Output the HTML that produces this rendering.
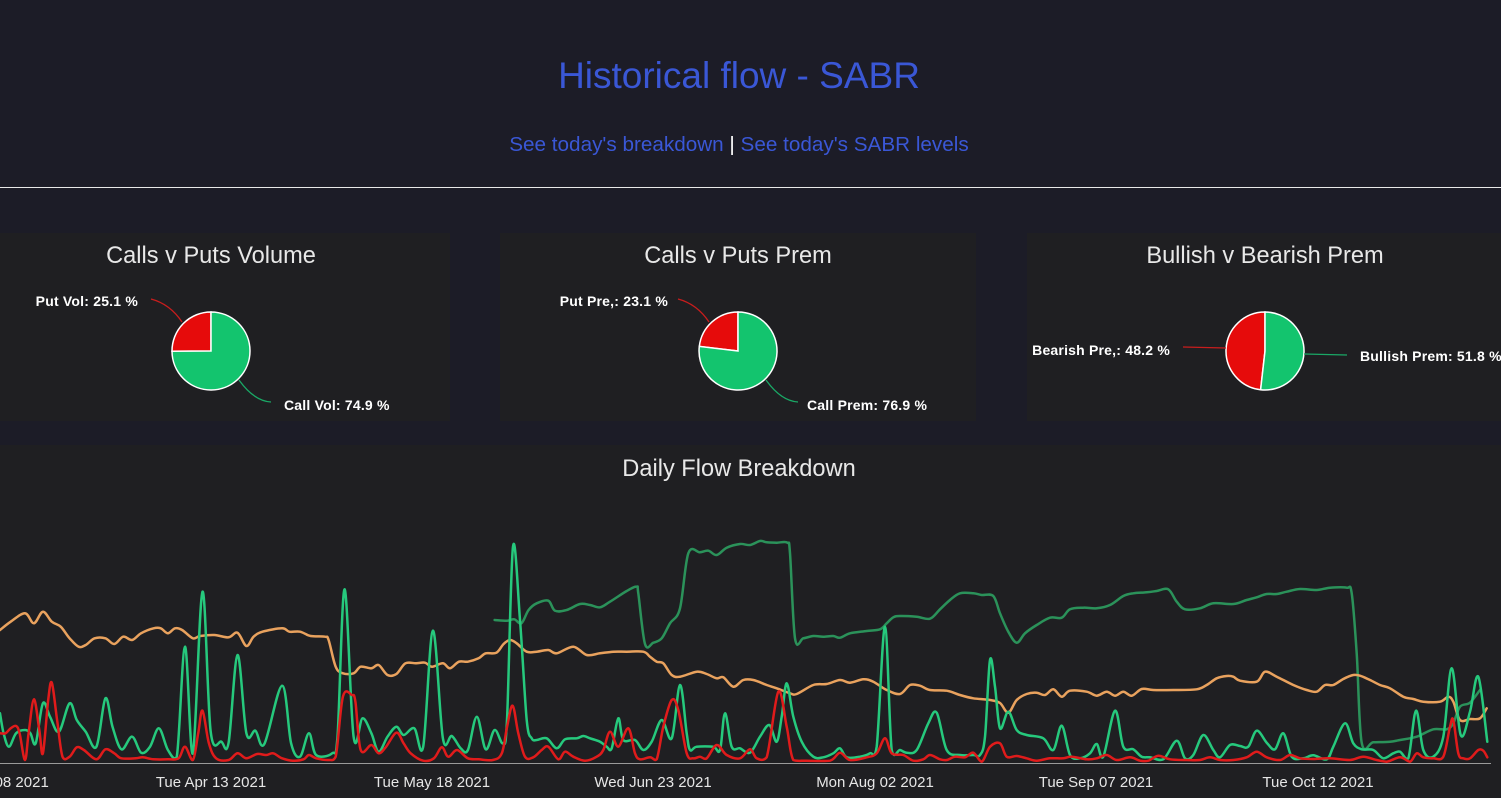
<!DOCTYPE html>
<html><head><meta charset="utf-8"><style>
html,body{margin:0;padding:0;background:#1c1c27;width:1501px;height:798px;overflow:hidden}
svg{display:block}
.t{font-family:"Liberation Sans",sans-serif}
</style></head><body>
<svg id="s" width="1501" height="798" viewBox="0 0 1501 798" xmlns="http://www.w3.org/2000/svg">
<rect x="0" y="0" width="1501" height="798" fill="#1c1c27"/>
<text class="t" x="739" y="88" text-anchor="middle" font-size="37" fill="#3a57d6">Historical flow - SABR</text>
<text class="t" x="739" y="151" text-anchor="middle" font-size="20.7"><tspan fill="#3a57d6">See today's breakdown</tspan><tspan fill="#ffffff"> | </tspan><tspan fill="#3a57d6">See today's SABR levels</tspan></text>
<rect x="0" y="187" width="1501" height="1" fill="#e8e8e8"/>

<rect x="0" y="233" width="450" height="188" fill="#1f1f22"/>
<rect x="500" y="233" width="476" height="188" fill="#1f1f22"/>
<rect x="1027" y="233" width="474" height="188" fill="#1f1f22"/>
<rect x="0" y="445" width="1501" height="353" fill="#1f1f22"/>

<g class="t" font-size="23.6" fill="#e8e8e8" text-anchor="middle">
<text x="211" y="263">Calls v Puts Volume</text>
<text x="738" y="263">Calls v Puts Prem</text>
<text x="1265" y="263">Bullish v Bearish Prem</text>
<text x="739" y="476">Daily Flow Breakdown</text>
</g>

<g stroke="#ffffff" stroke-width="1.5">
<path d="M211,351 L211,312 A39,39 0 0,0 172,351.25 Z" fill="#e60b0b"/>
<path d="M211,351 L172,351.25 A39,39 0 1,0 211,312 Z" fill="#13c46e"/>
<path d="M738,351 L738,312 A39,39 0 0,0 699.3,346.4 Z" fill="#e60b0b"/>
<path d="M738,351 L699.3,346.4 A39,39 0 1,0 738,312 Z" fill="#13c46e"/>
<path d="M1265,351 L1265,312 A39,39 0 0,0 1260.6,389.75 Z" fill="#e60b0b"/>
<path d="M1265,351 L1260.6,389.75 A39,39 0 1,0 1265,312 Z" fill="#13c46e"/>
</g>
<g fill="none" stroke-width="1.3">
<path d="M151,299 Q170,304 182,322" stroke="#c81d1d"/>
<path d="M239,380 Q254,401 271,402" stroke="#1aa866"/>
<path d="M678,299 Q697,304 709,322" stroke="#c81d1d"/>
<path d="M766,380 Q781,401 798,402" stroke="#1aa866"/>
<path d="M1183,347 L1226,348" stroke="#c81d1d"/>
<path d="M1304,354 L1347,355" stroke="#1aa866"/>
</g>
<g class="t" font-size="14" font-weight="bold" fill="#ffffff" letter-spacing="0.2">
<text x="138" y="306" text-anchor="end">Put Vol: 25.1 %</text>
<text x="284" y="410">Call Vol: 74.9 %</text>
<text x="668" y="306" text-anchor="end">Put Pre,: 23.1 %</text>
<text x="807" y="410">Call Prem: 76.9 %</text>
<text x="1170" y="355" text-anchor="end">Bearish Pre,: 48.2 %</text>
<text x="1360" y="361">Bullish Prem: 51.8 %</text>
</g>

<rect x="0" y="763" width="1491" height="1" fill="#9a9a9a"/>
<g class="t" font-size="15" fill="#e6e6e6" text-anchor="middle">
<text x="-10" y="787">Mon Mar 08 2021</text>
<text x="211" y="787">Tue Apr 13 2021</text>
<text x="432" y="787">Tue May 18 2021</text>
<text x="653" y="787">Wed Jun 23 2021</text>
<text x="875" y="787">Mon Aug 02 2021</text>
<text x="1096" y="787">Tue Sep 07 2021</text>
<text x="1318" y="787">Tue Oct 12 2021</text>
</g>

<g id="series" fill="none" stroke-width="2.5" stroke-linejoin="round" stroke-linecap="round">
<polyline stroke="#2b925a" points="494.6,620 507.1,620.7 514.3,619.3 521.4,623.3 528.6,610 536.7,603.3 548.3,600.7 555,610.7 566.7,610 580,604 590,605 600,607.3 610,601.7 626.7,591 636.7,586.7 638.3,593.3 645,644 653.3,642.7 661.7,638.3 670,623.3 680,608.3 688.3,553.3 700,552.3 708.3,550.7 716.7,555 726.7,547.7 740,544 750,545 760,541 766.7,542.3 776.7,542.7 787.3,542.7 790,553.3 795,638.3 803.3,638.3 813.3,636 823.3,636.7 833.3,636 840,637.7 850,633.3 866.7,631 880,629.3 886.7,623.3 893.3,617.3 900,616 916.7,616.7 930,618.7 940,609.3 950,600 960,593.3 973.3,593.3 981.7,595 993.3,596 1000,613.3 1008.3,631.7 1016.7,642.7 1025,633.3 1036.7,625 1050,617.7 1061.7,617.7 1070,609.3 1083.3,607.7 1096.7,608.3 1110,605 1123.3,596 1133.3,593.3 1146.7,592.3 1156.7,591 1168.3,589.3 1176.7,601.7 1185,609.3 1200,608.3 1213.3,603.3 1233.3,604 1246.7,600 1256.7,597.3 1266.7,594 1276.7,594 1286.7,591.7 1300,589 1316.7,590 1330,587.7 1346.7,587.7 1351.7,593.3 1356.7,653.3 1361.7,742.7 1373.3,742.3 1390,741.7 1400,740 1416.7,736.7 1433.3,729.3 1446.7,729.3 1453.3,723.3 1460,706.7 1470,702.7 1480,690"/>
<polyline stroke="#e9a25e" points="0,630 10.7,621.7 25,613.3 33.9,623.3 42.9,611.7 51.8,621.7 60.7,626.7 69.6,638.3 78.6,646.7 85.7,645 94.6,638.3 105.4,638.3 114.3,644 123.2,636.7 132.1,640 141,633.3 153.6,628.3 160.7,628.3 167.9,633.3 175,628.3 182.1,630 192.9,638.3 200,636 214.3,635 228.6,637.3 237.5,632.7 246.4,646 253.6,636.7 262.5,631.7 282.1,628.3 289.3,631.7 300,631.7 310.7,636 325,636.7 328.6,640 335.7,666.7 342.9,673.3 353.6,673.3 360.7,666.7 371.4,668.3 378.6,665 387.5,675 396.4,674 405.4,663.3 416.1,663.3 425,662.7 432.1,666.7 442.9,663.3 450,668.3 458.9,661.7 467.9,661.7 478.6,658.3 485.7,653.3 496.4,652.7 503.6,644 510,640 516.7,643.3 526.7,651.7 536.7,651.7 548.3,650 556.7,653.3 573.3,646.7 586.7,655 600,653.3 613.3,651.7 626.7,651.7 643.3,651.7 650,656.7 656.7,661.7 663.3,663.3 671.7,675 680,676.7 696.7,671.7 706.7,674 716.7,678.3 723.3,677.3 733.3,686.7 743.3,680 753.3,680 766.7,685 776.7,688.3 790,693.3 796.7,694 813.3,685 826.7,684 840,680 850,682.7 863.3,679.3 873.3,681.7 886.7,690 900,694 910,685 920,685.7 930,690 946.7,690.7 960,695 973.3,698.3 990,700 1000,703 1008.3,712.7 1016.7,700 1026.7,694 1036.7,692.7 1045,695 1053.3,689.3 1061.7,696.7 1070,690.7 1086.7,691.7 1096.7,695.7 1106.7,691.7 1115,695.7 1123.3,691.7 1131.7,695.7 1141.7,689 1153.3,690 1173.3,690 1196.7,689.3 1206.7,685 1216.7,678.3 1226.7,676 1233.3,676.7 1240,680.7 1256.7,681.7 1265,671.7 1276.7,676.7 1293.3,685 1306.7,690 1316.7,691.7 1325,685 1333.3,685 1343.3,679 1353.3,675 1360,675.7 1370,680 1380,685 1390,688.3 1403.3,696.7 1413.3,699 1423.3,701.7 1440,701.7 1448.3,696.7 1453.3,701.7 1460,720 1470,719 1480,718.3 1486.7,708.3"/>
<polyline stroke="#26c97d" points="0,713.3 3.6,733.3 8.9,746.7 16.1,733.3 25,730 30.4,733.3 35.7,743.3 42.9,703.3 50,716.7 58.9,731.7 69.6,703.3 76.8,720 85.7,731.7 96.4,746.7 105.4,698.3 112.5,726.7 121.4,749.3 132.1,736.7 141.1,752.7 150,746.7 158.9,728.3 167.9,750 176.8,756.7 185,646.7 192.9,753.3 202.5,591.7 210.7,731.7 221.4,741.7 228.6,742.7 237.5,655 246.4,733.3 255.4,730.7 264.3,744 282.1,685.7 291.1,743.3 300,756.7 308.9,733.3 316.1,755 332.1,753.3 337.5,736.7 344.6,589.3 353.6,736.7 362.5,718.3 371.4,733.3 378.6,751.7 387.5,736.7 396.4,726.7 403.6,735 414.3,728.3 423.2,746.7 432.9,630.7 442.9,738.3 451.8,736 460.7,748.3 467.9,750 476.8,716.7 485.7,749.3 494.6,730 502.9,743.3 507,720 513,546.7 520,620 526.7,720 531.7,738.3 536.7,740 546.7,738.3 556.7,748.3 565,739.3 576.7,738.3 583.3,736 590,738.3 600,741.7 606.7,746.7 611.7,748.3 618.3,718.3 623.3,740 635,740 643.3,750 651.7,741.7 661.7,720 671.7,738.3 680,685 686.7,733.3 690,750 696.7,746.7 713.3,746.7 720,750 725,713.3 731.7,746.7 740,748.3 750,752.7 760,736.7 769.3,725 776.7,741.7 781.7,716.7 786.7,683.3 793.3,716.7 801.7,741.7 813.3,756.7 823.3,757.3 833.3,753.3 840,748.3 846.7,757.3 860,756.7 870,753.3 876.7,746.7 885,626.7 891.7,750 900,750 906.7,752.7 916.7,750 928.3,723.3 936.7,712.7 946.7,750 960,755 973.3,755 980,755 985,736.7 990,660 995,686.7 1000,728.3 1008.3,711.7 1016.7,730 1026.7,735 1043.3,738.3 1053.3,750 1061.7,725.7 1070,755 1080,758.3 1090,753.3 1096.7,744 1103.3,756.7 1115,710.7 1123.3,746.7 1133.3,749.3 1141.7,756.7 1150,757.3 1163.3,759.3 1176.7,740.7 1185,758.3 1193.3,755 1203.3,735 1213.3,750 1220,757.3 1230,745 1240,746 1248.3,746.7 1256.7,730.7 1266.7,742.7 1275,749.3 1283.3,733.3 1291.7,756.7 1303.3,758.3 1313.3,755.3 1326.7,759.3 1333.3,746.7 1345,723.3 1353.3,743.3 1361.7,749.3 1373.3,750 1383.3,758.3 1393.3,753.3 1400,751.7 1408.3,758.3 1416,710.7 1423.3,750 1433.3,756.7 1443.3,736.7 1451.7,668.3 1460.7,735 1470,711.7 1478.3,676.7 1487.3,741.7"/>
<polyline stroke="#e01b1b" points="0,733.3 5.4,733.3 10.7,728.3 16.1,726 19.6,733.3 25,760 28.6,733.3 33.9,699.3 39.3,730 42.9,753.3 48.2,700 51.8,682.7 57.1,720 62.5,756.7 69.6,756.7 76.8,747.3 83.9,750 96.4,759.3 105.4,749.3 114.3,753.3 121.4,758.3 135.7,758.3 142.9,757.3 153.6,759.3 167.9,759.3 178.6,758.3 185,746.7 192.9,760 198.2,733.3 202.5,710.7 208.9,743.3 216.1,758.3 228.6,760 237.5,753.3 246.4,758.3 257.1,754 266.1,755 273.2,753.3 282.1,758.3 292.9,760.7 303.6,759.3 308.9,755 316.1,758.3 328.6,760 335.7,756.7 342.9,696.7 351.8,695 355.4,701.7 360.7,750 371.4,745 378.6,753.3 385.7,747.3 396.4,732.7 403.6,743.3 410.7,753.3 423.2,760.7 433.9,758.3 441.8,747.3 448.2,756.7 457.1,750 467.9,758.3 478.6,759.3 492.9,760 501.8,753.3 507.1,726.7 512.6,705.7 518.3,733.3 525,756.7 533.3,757.3 541.7,750 548.3,746.7 558.3,759.3 565,751.7 573.3,756.7 585,760.7 596.7,756.7 603.3,750 610,731.7 618.3,746.7 628.3,728.3 635,753.3 640,759.3 650,757.3 656.7,759.3 663.3,726.7 671.7,700 678.3,710 686.7,753.3 693.3,758.3 700,756.7 706.7,758.3 716.7,745 726.7,755 740,758.3 750,749.3 756.7,758.3 766.7,757.3 778.3,691.7 786.7,726.7 793.3,760 806.7,760.7 830,760.7 840,752.7 850,760 866.7,757.3 876.7,753.3 885,738.3 891.7,753.3 903.3,755 913.3,760.7 923.3,759.3 930,755 940,759.3 946.7,760 955,756.7 965,757.3 973.3,752.7 981.7,761.7 990,746.7 1000,743.3 1006.7,756.7 1016.7,756 1026.7,758.3 1036.7,760.7 1050,758.3 1063.3,758.3 1071.7,756.7 1086.7,759.3 1096.7,758.3 1106.7,755 1116.7,760 1130,757.3 1140,760.7 1148.3,760.7 1158.3,755.7 1170,759.3 1186.7,760 1200,760 1210,757.3 1220,760 1233.3,760 1246.7,757.3 1256.7,751.7 1266.7,757.3 1280,760 1290,755 1300,758.3 1313.3,759 1330,758.3 1350,760 1363.3,756.7 1376.7,760 1386.7,761.7 1400,757.3 1410,761.7 1416.7,753.3 1423.3,757.3 1433.3,758.3 1443.3,756.7 1450,726.7 1453.3,720 1458.3,753.3 1463.3,758.3 1470,758.3 1478.3,750 1483.3,750.7 1487.3,757.3"/>
</g>
</svg>
<script>
(function(){
  var NS="http://www.w3.org/2000/svg";
  var pls=document.querySelectorAll('#series polyline');
  function cl(v){return Math.min(v,761.5);}
  for(var k=0;k<pls.length;k++){
    var pl=pls[k];
    var raw=pl.getAttribute('points').trim().split(/\s+/);
    var p=[];
    for(var i=0;i<raw.length;i++){var a=raw[i].split(',');p.push([+a[0],+a[1]]);}
    var d='M'+p[0][0]+','+p[0][1];
    for(var i=0;i<p.length-1;i++){
      var p0=p[i>0?i-1:0],p1=p[i],p2=p[i+1],p3=p[i+2<p.length?i+2:p.length-1];
      var c1x=p1[0]+(p2[0]-p0[0])/6,c1y=cl(p1[1]+(p2[1]-p0[1])/6);
      var c2x=p2[0]-(p3[0]-p1[0])/6,c2y=cl(p2[1]-(p3[1]-p1[1])/6);
      d+=' C'+c1x.toFixed(1)+','+c1y.toFixed(1)+' '+c2x.toFixed(1)+','+c2y.toFixed(1)+' '+p2[0]+','+p2[1];
    }
    var path=document.createElementNS(NS,'path');
    path.setAttribute('d',d);
    path.setAttribute('stroke',pl.getAttribute('stroke'));
    pl.parentNode.replaceChild(path,pl);
  }
})();
</script>
</body></html>
